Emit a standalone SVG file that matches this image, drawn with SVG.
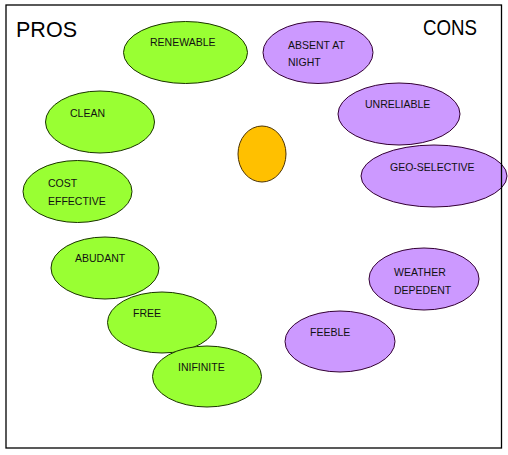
<svg xmlns="http://www.w3.org/2000/svg" width="508" height="455" viewBox="0 0 508 455">
<style>
.pro{fill:#99FF33;stroke:#1a3300;stroke-width:1}
.con{fill:#CC99FF;stroke:#330033;stroke-width:1}
.sun{fill:#FFC000;stroke:#4d3300;stroke-width:1}
.lbl{font-family:"Liberation Sans",Arial,sans-serif;font-size:10.5px;fill:#111}
.head{font-family:"Liberation Sans",Arial,sans-serif;font-size:22px;fill:#000}
</style>
<rect x="0" y="0" width="508" height="455" fill="#fff"/>
<g id="connectors"></g>
<g id="sun"><ellipse class="sun" cx="262" cy="154" rx="24" ry="28"/></g>
<g id="renewable"><ellipse class="pro" cx="185.5" cy="52.5" rx="62" ry="31"/><text class="lbl" x="150" y="46">RENEWABLE</text></g>
<g id="clean"><ellipse class="pro" cx="100" cy="122" rx="54.5" ry="31"/><text class="lbl" x="70" y="117">CLEAN</text></g>
<g id="cost-effective"><ellipse class="pro" cx="77.5" cy="191.5" rx="54.5" ry="31"/><text class="lbl" x="48" y="187">COST</text><text class="lbl" x="48" y="205">EFFECTIVE</text></g>
<g id="abudant"><ellipse class="pro" cx="105" cy="268" rx="54" ry="31"/><text class="lbl" x="75" y="262">ABUDANT</text></g>
<g id="free"><ellipse class="pro" cx="162" cy="322.5" rx="54.5" ry="30.5"/><text class="lbl" x="133" y="317">FREE</text></g>
<g id="infinite"><ellipse class="pro" cx="207" cy="376.5" rx="54.5" ry="30.5"/><text class="lbl" x="178" y="371">INIFINITE</text></g>
<g id="absent-at-night"><ellipse class="con" cx="318" cy="52.5" rx="55" ry="31"/><text class="lbl" x="288" y="49">ABSENT AT</text><text class="lbl" x="288" y="66">NIGHT</text></g>
<g id="unreliable"><ellipse class="con" cx="399" cy="114" rx="61" ry="31"/><text class="lbl" x="365" y="108">UNRELIABLE</text></g>
<g id="geo-selective"><ellipse class="con" cx="434" cy="176" rx="73" ry="31"/><text class="lbl" x="390" y="171">GEO-SELECTIVE</text></g>
<g id="weather-dependent"><ellipse class="con" cx="424" cy="279" rx="55" ry="31"/><text class="lbl" x="394" y="276">WEATHER</text><text class="lbl" x="394" y="294">DEPEDENT</text></g>
<g id="feeble"><ellipse class="con" cx="340" cy="341.5" rx="55" ry="30.5"/><text class="lbl" x="310" y="336">FEEBLE</text></g>
<rect x="6" y="5" width="495.5" height="443" fill="none" stroke="#000" stroke-width="1.3"/>
<text class="head" x="16" y="37" textLength="61" lengthAdjust="spacingAndGlyphs">PROS</text>
<text class="head" x="423" y="35" textLength="54" lengthAdjust="spacingAndGlyphs">CONS</text>
</svg>
